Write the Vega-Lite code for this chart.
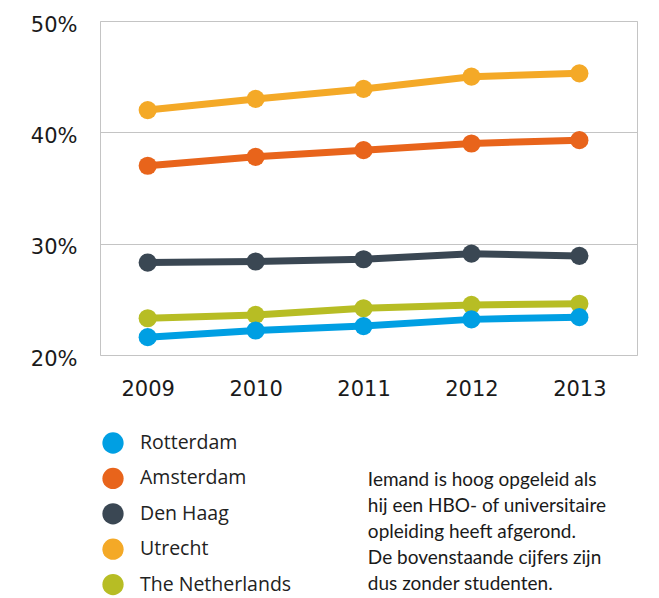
{
  "$schema": "https://vega.github.io/schema/vega-lite/v6.json",
  "autosize": "none",
  "padding": {"left": 100, "top": 21, "right": 22, "bottom": 243},
  "width": 537,
  "height": 334,
  "config": {
    "view": {"stroke": "#c4c4c4", "strokeWidth": 1},
    "font": "Lato",
    "legend": {
      "title": null, "orient": "none", "legendX": 2, "legendY": 411,
      "symbolType": "circle", "symbolSize": 452, "symbolStrokeWidth": 0, "symbolOpacity": 1,
      "labelFontSize": 19.5, "labelFont": "Open Sans", "labelColor": "#222222",
      "labelOffset": 16, "rowPadding": 13.4, "padding": 0, "labelLimit": 300
    }
  },
  "datasets": {
    "main": [
      {"year": 2009, "city": "Utrecht", "pct": 42.0},
      {"year": 2010, "city": "Utrecht", "pct": 43.0},
      {"year": 2011, "city": "Utrecht", "pct": 43.9},
      {"year": 2012, "city": "Utrecht", "pct": 45.0},
      {"year": 2013, "city": "Utrecht", "pct": 45.3},
      {"year": 2009, "city": "Amsterdam", "pct": 37.0},
      {"year": 2010, "city": "Amsterdam", "pct": 37.8},
      {"year": 2011, "city": "Amsterdam", "pct": 38.4},
      {"year": 2012, "city": "Amsterdam", "pct": 39.0},
      {"year": 2013, "city": "Amsterdam", "pct": 39.3},
      {"year": 2009, "city": "Den Haag", "pct": 28.3},
      {"year": 2010, "city": "Den Haag", "pct": 28.4},
      {"year": 2011, "city": "Den Haag", "pct": 28.6},
      {"year": 2012, "city": "Den Haag", "pct": 29.1},
      {"year": 2013, "city": "Den Haag", "pct": 28.9},
      {"year": 2009, "city": "The Netherlands", "pct": 23.3},
      {"year": 2010, "city": "The Netherlands", "pct": 23.6},
      {"year": 2011, "city": "The Netherlands", "pct": 24.2},
      {"year": 2012, "city": "The Netherlands", "pct": 24.5},
      {"year": 2013, "city": "The Netherlands", "pct": 24.6},
      {"year": 2009, "city": "Rotterdam", "pct": 21.6},
      {"year": 2010, "city": "Rotterdam", "pct": 22.2},
      {"year": 2011, "city": "Rotterdam", "pct": 22.6},
      {"year": 2012, "city": "Rotterdam", "pct": 23.2},
      {"year": 2013, "city": "Rotterdam", "pct": 23.4}
    ],
    "note": [
      {"year": 2011.04, "pct": 9.6, "text": ["Iemand is hoog opgeleid als", "hij een HBO- of universitaire", "opleiding heeft afgerond.", "De bovenstaande cijfers zijn", "dus zonder studenten."]}
    ]
  },
  "layer": [
    {
      "data": {"name": "main"},
      "mark": {"type": "line", "strokeWidth": 7, "strokeCap": "round"},
      "encoding": {
        "x": {
          "field": "year", "type": "quantitative",
          "scale": {"domain": [2008.558, 2013.534], "nice": false, "zero": false},
          "axis": {
            "values": [2009, 2010, 2011, 2012, 2013], "format": "d", "title": null,
            "grid": false, "domain": false, "ticks": false,
            "labelFontSize": 21, "labelPadding": 23, "labelColor": "#1a1a1a", "labelFont": "DejaVu Sans"
          }
        },
        "y": {
          "field": "pct", "type": "quantitative",
          "scale": {"domain": [20, 50], "nice": false, "zero": false},
          "axis": {
            "values": [20, 30, 40, 50], "labelExpr": "datum.value + '%'", "title": null,
            "grid": true, "gridColor": "#c4c4c4", "gridWidth": 1,
            "domain": false, "ticks": false,
            "labelFontSize": 21, "labelPadding": 23, "labelOffset": 4, "labelColor": "#1a1a1a", "labelFont": "DejaVu Sans"
          }
        },
        "color": {
          "field": "city", "type": "nominal",
          "scale": {
            "domain": ["Rotterdam", "Amsterdam", "Den Haag", "Utrecht", "The Netherlands"],
            "range": ["#009FE3", "#E8641B", "#3A4753", "#F4A927", "#B7BD24"]
          }
        }
      }
    },
    {
      "data": {"name": "main"},
      "mark": {"type": "point", "filled": true, "opacity": 1, "size": 330, "shape": "circle"},
      "encoding": {
        "x": {"field": "year", "type": "quantitative"},
        "y": {"field": "pct", "type": "quantitative"},
        "color": {"field": "city", "type": "nominal"}
      }
    },
    {
      "data": {"name": "note"},
      "mark": {"type": "text", "align": "left", "baseline": "top", "fontSize": 19, "lineHeight": 26, "font": "Lato", "color": "#1a1a1a", "clip": false},
      "encoding": {
        "x": {"field": "year", "type": "quantitative"},
        "y": {"field": "pct", "type": "quantitative"},
        "text": {"field": "text"}
      }
    }
  ]
}
